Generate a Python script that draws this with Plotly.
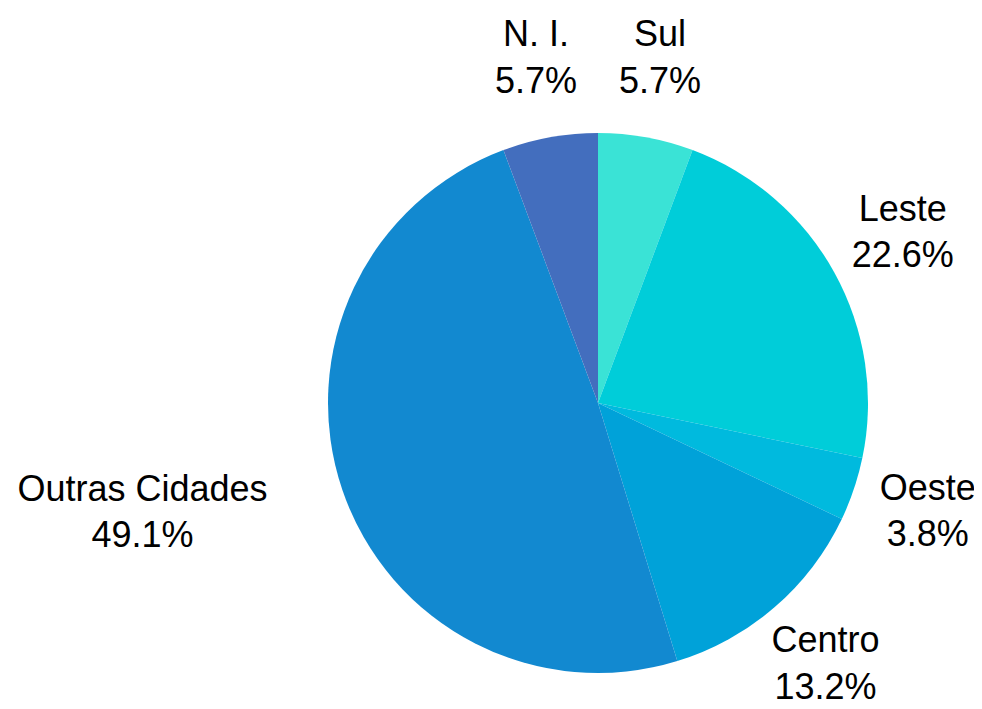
import numpy as np
import plotly.graph_objects as go

regions = ["Sul", "Leste", "Oeste", "Centro", "Outras Cidades", "N. I."]
shares = [5.7, 22.6, 3.8, 13.2, 49.1, 5.7]
colors = ["#3ae3d6", "#00cdd9", "#00bade", "#00a2d9", "#1289d0", "#436ebe"]

# the page body adds an 8px offset, so the geometry is given in figure pixels
W, H = 982, 709
cx, cy = 590, 395          # pie centre (px from top-left of figure)
r_pie = 270                # slice radius in px
r_label = 348              # label ring radius in px
font_px = 36

dom = dict(
    x=[(cx - r_pie) / W, (cx + r_pie) / W],
    y=[(H - cy - r_pie) / H, (H - cy + r_pie) / H],
)

# mid angle of every slice, clockwise from 12 o'clock
vals = np.array(shares)
mid = np.deg2rad((np.cumsum(vals) - vals / 2) / vals.sum() * 360)
label_x = r_label * np.sin(mid)
label_y = r_label * np.cos(mid)
label_text = [f"{lab}<br>{v:.1f}%" for lab, v in zip(regions, shares)]

# a label that would run into the pie is pushed outwards by half its (rough) width
half_w = np.array([0.25 * font_px * max(len(lab), 5) for lab in regions])
overlap = label_x - half_w < -r_pie - 20
label_x = np.where(overlap, label_x - half_w, label_x)

fig = go.Figure()

fig.add_trace(
    go.Pie(
        labels=regions,
        values=shares,
        sort=False,
        direction="clockwise",
        rotation=0,
        domain=dom,
        marker=dict(colors=colors, line=dict(width=0)),
        textinfo="none",
        hoverinfo="label+value",
    )
)

# labels on a ring around the pie; axes are 1 unit = 1 px, origin at pie centre
fig.add_trace(
    go.Scatter(
        x=label_x,
        y=label_y,
        mode="text",
        text=label_text,
        textposition="middle center",
        textfont=dict(family="Liberation Sans, Arial, sans-serif", size=font_px, color="#000000"),
        cliponaxis=False,
        hoverinfo="skip",
    )
)

fig.update_layout(
    width=W,
    height=H,
    margin=dict(l=0, r=0, t=0, b=0, autoexpand=False),
    paper_bgcolor="white",
    plot_bgcolor="rgba(0,0,0,0)",
    showlegend=False,
    xaxis=dict(range=[-cx, W - cx], visible=False, fixedrange=True),
    yaxis=dict(range=[cy - H, cy], visible=False, fixedrange=True),
)

fig.write_html("out.html")
